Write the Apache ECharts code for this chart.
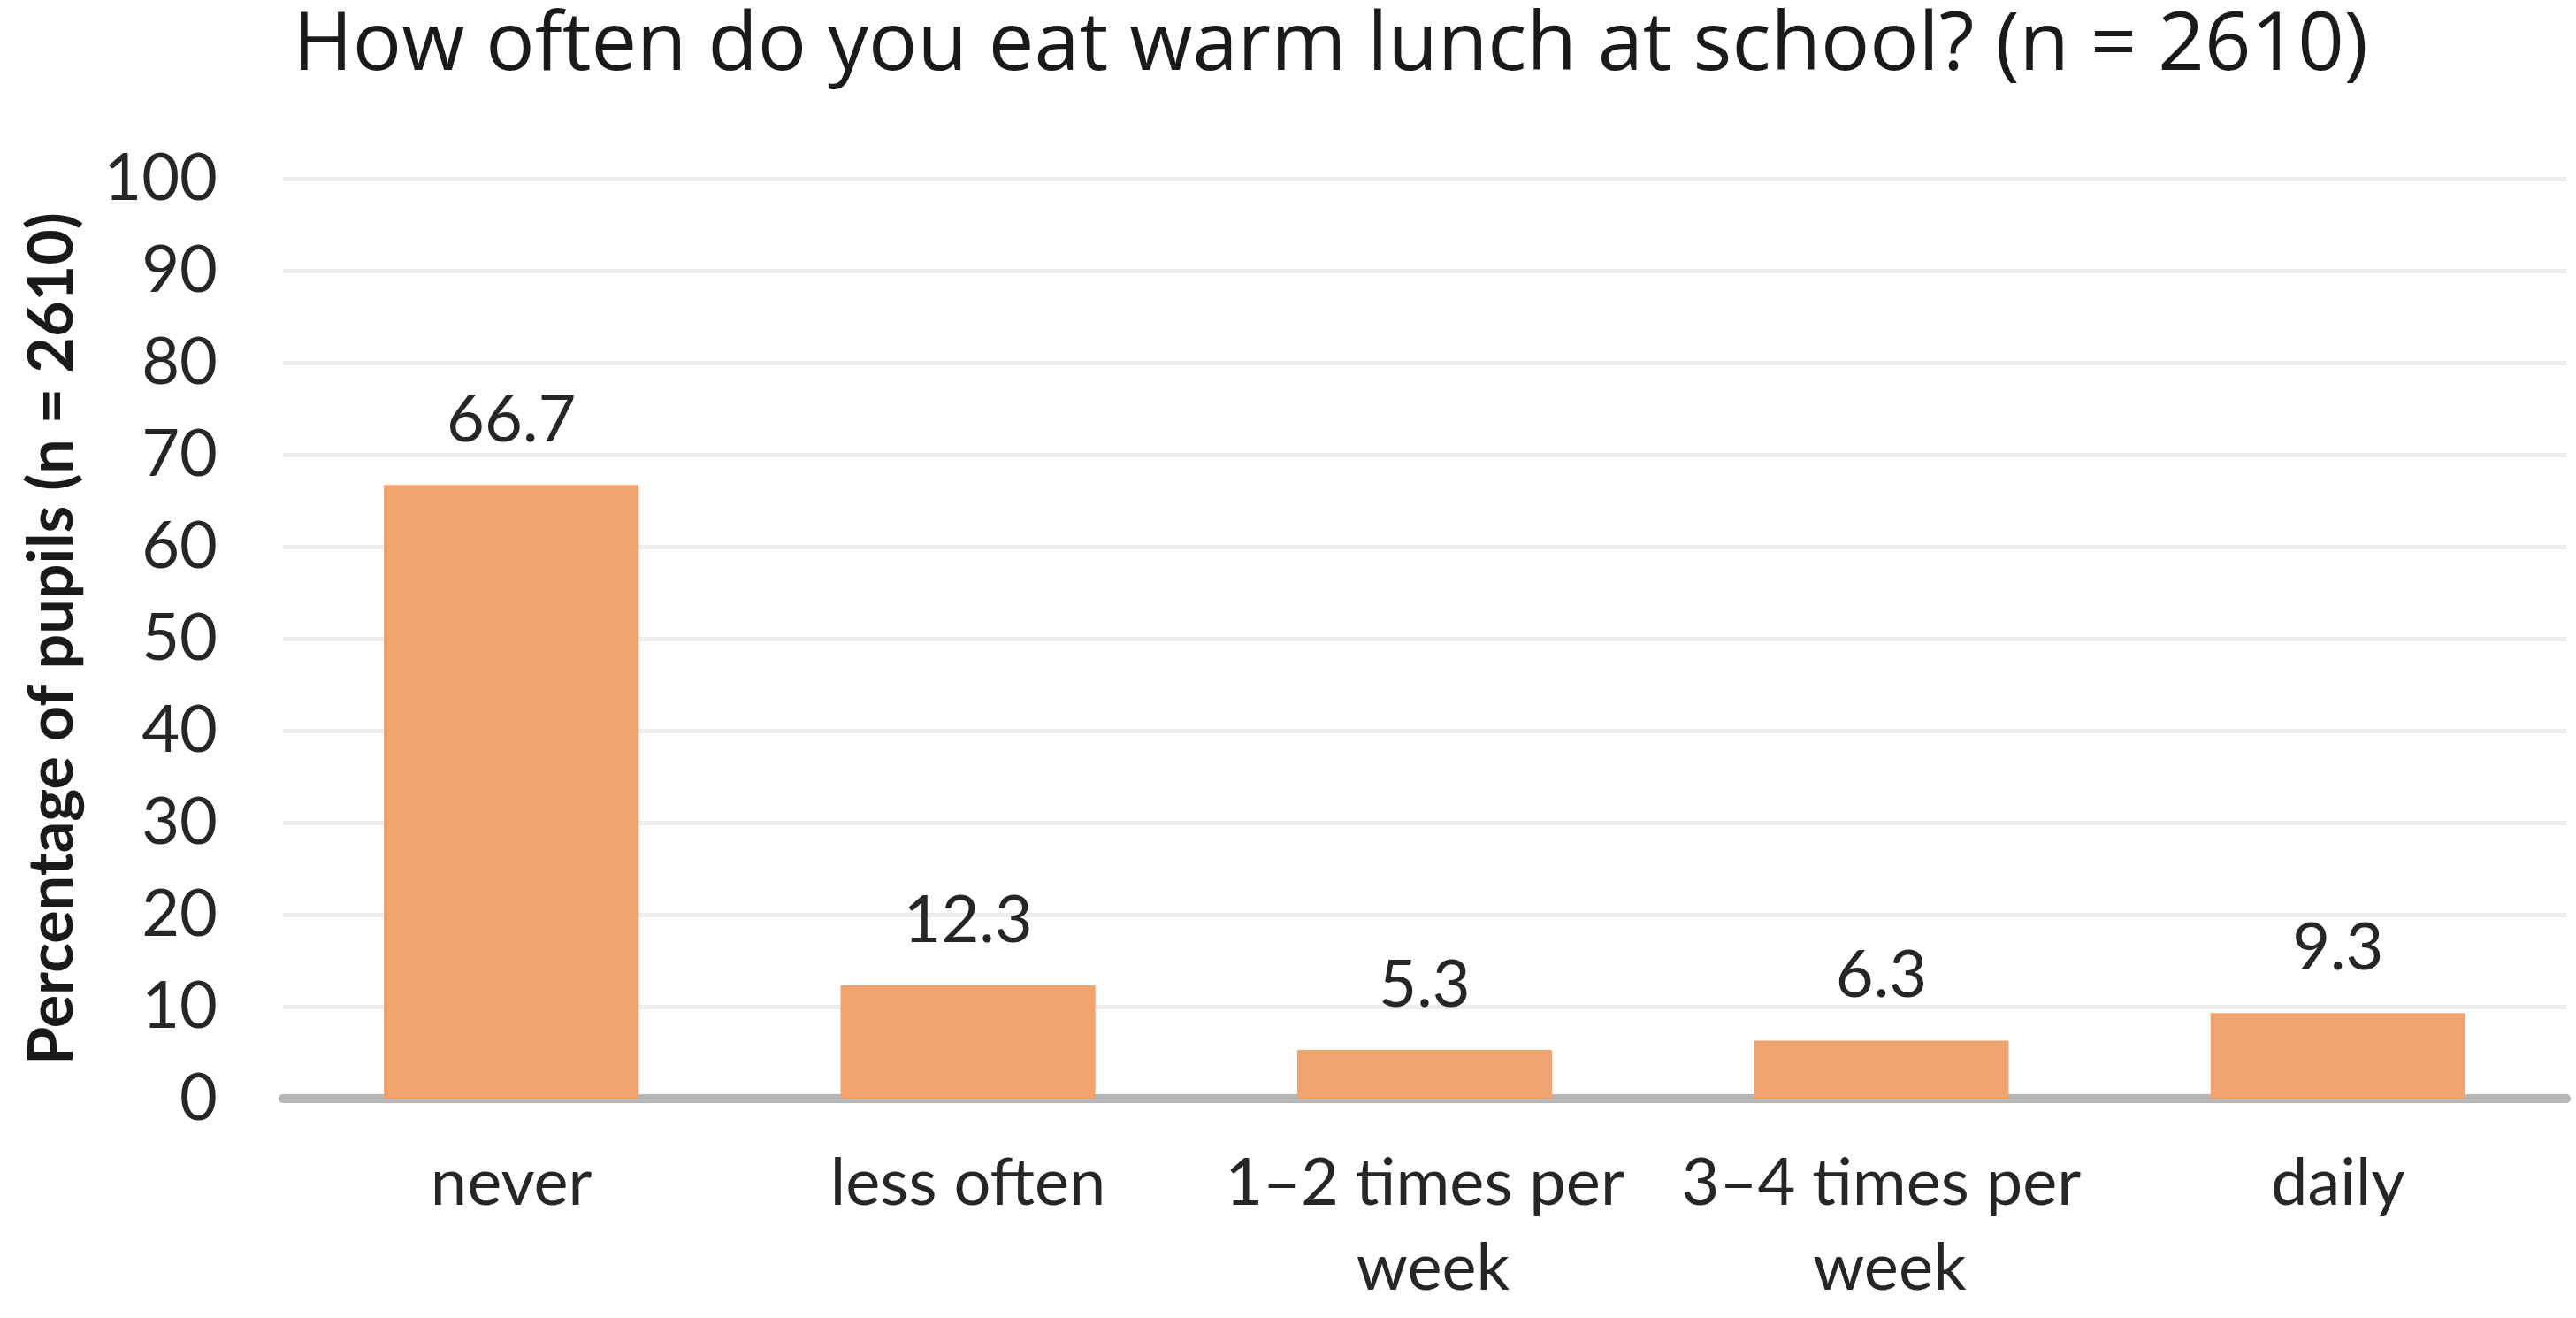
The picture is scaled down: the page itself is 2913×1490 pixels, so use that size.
<!DOCTYPE html>
<html>
<head>
<meta charset="utf-8">
<script src="https://cdn.jsdelivr.net/npm/echarts@6/dist/echarts.min.js"></script>
<style>
html,body{margin:0;padding:0;background:#fff;}
#chart{width:2913px;height:1490px;}
</style>
</head>
<body>
<div id="chart"></div>
<script>
var titleText = 'How often do you eat warm lunch at school? (n = 2610)';
var yAxisTitle = 'Percentage of pupils (n = 2610)';
var categories = ['never', 'less often', '1\u20132 times per week', '3\u20134 times per week', 'daily'];
var percentages = [66.7, 12.3, 5.3, 6.3, 9.3];
var yMin = 0, yMax = 100, yStep = 10;

var FONT = 'Lato';
var chart = echarts.init(document.getElementById('chart'), null, {renderer: 'canvas'});
chart.setOption({
  backgroundColor: '#ffffff',
  animation: false,
  title: {
    text: titleText,
    left: 326,
    top: 2,
    textStyle: {fontFamily: 'Open Sans', fontSize: 92, fontWeight: 'normal', color: '#1a1a1a'}
  },
  grid: {left: 320, right: 11, top: 202, bottom: 248, containLabel: false},
  xAxis: {
    type: 'category',
    data: categories,
    axisLine: {show: true, lineStyle: {color: '#b4b6b8', width: 10}},
    axisTick: {show: false},
    axisLabel: {
      fontFamily: FONT, fontSize: 74, color: '#262626', margin: 48,
      lineHeight: 96, width: 500, overflow: 'break', interval: 0
    }
  },
  yAxis: {
    type: 'value',
    min: yMin, max: yMax, interval: yStep,
    name: yAxisTitle,
    nameLocation: 'middle',
    nameGap: 226,
    nameRotate: 90,
    nameTextStyle: {fontFamily: FONT, fontSize: 70, fontWeight: 'bold', color: '#1a1a1a'},
    axisLine: {show: false},
    axisTick: {show: false},
    axisLabel: {fontFamily: FONT, fontSize: 74, color: '#262626', margin: 74},
    splitLine: {show: true, lineStyle: {color: '#ececec', width: 5}}
  },
  series: [{
    type: 'bar',
    data: percentages,
    barWidth: '55.8%',
    itemStyle: {color: '#f0a36c'},
    label: {
      show: true, position: 'top', distance: 36,
      fontFamily: FONT, fontSize: 74, color: '#262626',
      formatter: function (p) { return p.value.toFixed(1); }
    }
  }]
});
</script>
</body>
</html>
